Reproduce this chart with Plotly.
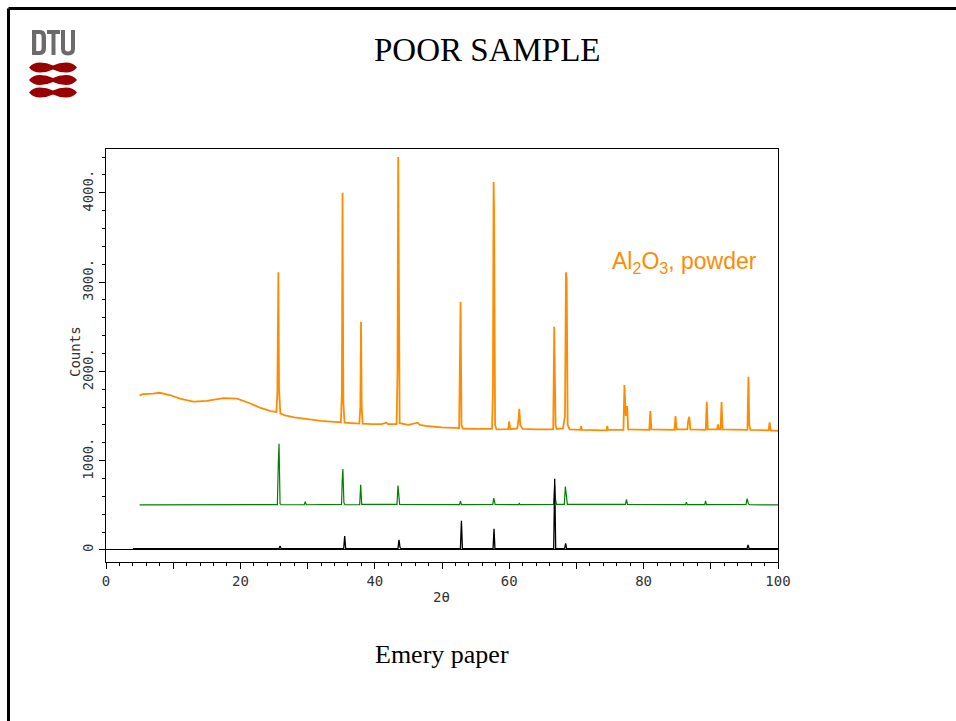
import plotly.graph_objects as go

# ---------------- data ----------------
orange_x = [5.0, 5.5, 7.0, 8.0, 9.5, 11.0, 13.0, 15.0, 17.5, 19.5, 21.5, 23.0, 24.5, 25.35,
            25.5, 25.65, 25.75, 25.95, 26.5, 28.0, 30.0, 32.0, 34.0, 34.95,
            35.1, 35.2, 35.32, 35.5, 36.5, 37.7,
            37.85, 37.95, 38.05, 38.2, 39.5, 41.0, 41.7, 42.0, 43.25,
            43.38, 43.48, 43.55, 43.7, 45.0, 46.4, 46.7, 48.0, 50.0, 51.5, 52.55,
            52.68, 52.76, 52.9, 53.1, 55.0, 57.45,
            57.58, 57.68, 57.75, 57.9, 58.1, 59.85, 60.0, 60.15, 61.2, 61.4, 61.5, 61.65, 62.0, 64.0, 66.55,
            66.7, 66.8, 66.9, 67.05, 68.0, 68.3,
            68.45, 68.55, 68.7, 69.0, 70.6, 70.7, 70.8, 74.5, 74.6, 74.7, 77.0,
            77.15, 77.35, 77.55, 77.7, 80.85, 81.0, 81.15, 84.6, 84.75, 84.9, 86.5, 86.65, 86.8, 86.95,
            89.25, 89.4, 89.55, 90.95, 91.05, 91.2, 91.45, 91.6, 91.75, 95.45,
            95.6, 95.72, 95.9, 98.6, 98.75, 98.9, 100.0]
orange_y = [1730, 1745, 1750, 1760, 1735, 1695, 1660, 1670, 1700, 1695, 1640, 1590, 1555, 1545,
            1750, 3110, 1800, 1530, 1510, 1485, 1465, 1445, 1435, 1430,
            1750, 4000, 1650, 1425, 1420, 1415,
            1600, 2555, 1600, 1415, 1410, 1408, 1425, 1410, 1410,
            2000, 4400, 2700, 1420, 1400, 1425, 1400, 1385, 1372, 1365, 1365,
            2200, 2780, 1400, 1360, 1355, 1355,
            1800, 4120, 3800, 1400, 1350, 1352, 1440, 1352, 1360, 1470, 1580, 1400, 1355, 1350, 1350,
            2500, 2000, 1400, 1355, 1360, 1500,
            3110, 3040, 1400, 1350, 1345, 1385, 1345, 1340, 1390, 1345, 1345,
            1846, 1500, 1611, 1350, 1345, 1555, 1350, 1345, 1500, 1350, 1350, 1450, 1491, 1350,
            1345, 1660, 1350, 1350, 1405, 1350, 1350, 1656, 1350, 1345,
            1940, 1400, 1345, 1340, 1430, 1340, 1335]

green_x = [5.0, 15.5, 16.0, 16.5, 25.5, 25.65, 25.75, 25.9, 26.05, 29.5, 29.65, 29.8,
           35.05, 35.15, 35.25, 35.4, 35.55, 37.75, 37.9, 38.05, 43.3, 43.45, 43.55, 43.7,
           52.6, 52.75, 52.9, 57.55, 57.7, 57.9, 61.4, 61.5, 61.6, 66.6, 66.77, 66.9, 67.05,
           68.2, 68.36, 68.5, 68.65, 77.3, 77.45, 77.6, 86.25, 86.37, 86.5, 89.1, 89.22, 89.35,
           95.25, 95.4, 95.6, 95.8, 100.0]
green_y = [505, 505, 512, 505, 508, 1000, 1190, 520, 506, 506, 540, 506,
           510, 780, 905, 530, 506, 508, 730, 510, 510, 720, 660, 510,
           508, 545, 508, 510, 580, 510, 507, 520, 507, 510, 730, 560, 510,
           510, 710, 560, 510, 510, 565, 510, 508, 535, 508, 508, 550, 508,
           510, 575, 515, 506, 505]

black_x = [4.0, 25.75, 25.9, 26.05, 35.37, 35.52, 35.67, 43.45, 43.6, 43.75, 43.9,
           52.74, 52.89, 53.04, 57.6, 57.74, 57.88, 66.62, 66.77, 66.92, 68.25, 68.4, 68.55,
           95.4, 95.54, 95.7, 100.0]
black_y = [15, 15, 45, 15, 15, 157, 15, 15, 112, 30, 15,
           15, 326, 15, 15, 236, 15, 15, 798, 15, 15, 75, 15,
           15, 56, 15, 15]

x_tick_vals = [0, 10, 20, 30, 40, 50, 60, 70, 80, 90, 100]
x_tick_text = ["0", "", "20", "", "40", "", "60", "", "80", "", "100"]
y_tick_vals = [0, 1000, 2000, 3000, 4000]
y_tick_text = ["0", "1000.", "2000.", "3000.", "4000."]

# ---------------- layout helpers ----------------
W, H = 956, 721
L, R, T, B = 106, 778, 149, 562


def px(x):
    return (x - L) / (R - L)


def py(y):
    return (B - y) / (B - T)


def path(cmds):
    out = []
    for c in cmds:
        if isinstance(c, str):
            out.append(c)
        else:
            out.append(f"{px(c[0]):.5f},{py(c[1]):.5f}")
    return " ".join(out)


fig = go.Figure()
fig.add_trace(go.Scatter(x=orange_x, y=orange_y, mode="lines",
                         line=dict(color="#FF8C00", width=1.8), showlegend=False))
fig.add_trace(go.Scatter(x=green_x, y=green_y, mode="lines",
                         line=dict(color="#008000", width=1.2), showlegend=False))
fig.add_trace(go.Scatter(x=black_x, y=black_y, mode="lines",
                         line=dict(color="#000000", width=1.3), showlegend=False))

tickfont = dict(family="DejaVu Sans Mono", size=14, color="#333333")

fig.update_layout(
    width=W, height=H,
    margin=dict(l=L, r=W - R, t=T, b=H - B, autoexpand=False),
    paper_bgcolor="white", plot_bgcolor="white",
    xaxis=dict(range=[0, 100], showline=True, linecolor="black", linewidth=1, mirror=True,
               ticks="outside", tickmode="array", tickvals=x_tick_vals, ticktext=x_tick_text,
               ticklen=6, tickcolor="black", tickwidth=1, showgrid=False, zeroline=False,
               tickfont=tickfont,
               minor=dict(tickmode="linear", tick0=0, dtick=2, ticklen=3, ticks="outside",
                          tickcolor="black", showgrid=False)),
    yaxis=dict(range=[-135, 4490], showline=True, linecolor="black", linewidth=1, mirror=True,
               ticks="outside", tickmode="array", tickvals=y_tick_vals, ticktext=y_tick_text,
               ticklen=6, tickcolor="black", tickwidth=1, showgrid=False,
               zeroline=True, zerolinecolor="black", zerolinewidth=1,
               tickangle=-90, tickfont=tickfont,
               minor=dict(tickmode="linear", tick0=0, dtick=200, ticklen=3, ticks="outside",
                          tickcolor="black", showgrid=False)),
)

annotations = [
    dict(text="POOR SAMPLE", x=px(487), y=py(50), xref="paper", yref="paper",
         showarrow=False, xanchor="center", yanchor="middle",
         font=dict(family="Liberation Serif", size=33, color="black")),
    dict(text="Emery paper", x=px(441.5), y=py(654), xref="paper", yref="paper",
         showarrow=False, xanchor="center", yanchor="middle",
         font=dict(family="Liberation Serif", size=26, color="black")),
    dict(text="Counts", x=px(75), y=py(352), xref="paper", yref="paper",
         showarrow=False, xanchor="center", yanchor="middle", textangle=-90,
         font=dict(family="DejaVu Sans Mono", size=14, color="#333333")),
    dict(text="2θ", x=px(441), y=py(597), xref="paper", yref="paper",
         showarrow=False, xanchor="center", yanchor="middle",
         font=dict(family="DejaVu Sans Mono", size=14, color="#333333")),
    dict(text="Al<sub>2</sub>O<sub>3</sub>, powder", x=px(684), y=py(262), xref="paper",
         yref="paper", showarrow=False, xanchor="center", yanchor="middle",
         font=dict(family="Liberation Sans", size=23, color="#FF8C00")),
]
fig.update_layout(annotations=annotations)

shapes = []
# slide border
shapes.append(dict(type="line", xref="paper", yref="paper", x0=px(8.5), y0=py(8.5),
                   x1=px(970), y1=py(8.5), line=dict(color="black", width=3)))
shapes.append(dict(type="line", xref="paper", yref="paper", x0=px(8.5), y0=py(8.5),
                   x1=px(8.5), y1=py(730), line=dict(color="black", width=3)))

# DTU logo letters
grey = "#6b6b6b"
d_path = path(["M", (32, 30), "L", (40, 30), "Q", (46, 30), (46, 37), "L", (46, 48), "Q", (46, 55),
               (40, 55), "L", (32, 55), "Z",
               "M", (36.2, 34), "L", (39.5, 34), "Q", (41.6, 34), (41.6, 37), "L", (41.6, 48),
               "Q", (41.6, 51), (39.5, 51), "L", (36.2, 51), "Z"])
t_path = path(["M", (47, 30), "L", (60, 30), "L", (60, 34), "L", (55.5, 34), "L", (55.5, 55),
               "L", (51.5, 55), "L", (51.5, 34), "L", (47, 34), "Z"])
u_path = path(["M", (61, 30), "L", (65, 30), "L", (65, 49), "Q", (65, 51.5), (68, 51.5),
               "Q", (71, 51.5), (71, 49), "L", (71, 30), "L", (75, 30), "L", (75, 49),
               "Q", (75, 55.5), (68, 55.5), "Q", (61, 55.5), (61, 49), "Z"])
for p_ in (d_path, t_path, u_path):
    shapes.append(dict(type="path", xref="paper", yref="paper", path=p_, fillcolor=grey,
                       fillrule="evenodd", line=dict(width=0)))

# DTU logo red waves
for cy in (67.5, 80.0, 92.5):
    wave = path(["M", (29, cy), "Q", (33, cy - 5), (40, cy - 5), "Q", (47, cy - 5), (53, cy - 2),
                 "Q", (59, cy - 5), (66, cy - 5), "Q", (73, cy - 5), (77, cy),
                 "Q", (73, cy + 5), (66, cy + 5), "Q", (59, cy + 5), (53, cy + 2),
                 "Q", (47, cy + 5), (40, cy + 5), "Q", (33, cy + 5), (29, cy), "Z"])
    shapes.append(dict(type="path", xref="paper", yref="paper", path=wave,
                       fillcolor="#990000", line=dict(width=0)))

fig.update_layout(shapes=shapes)

fig.write_html("out.html")
